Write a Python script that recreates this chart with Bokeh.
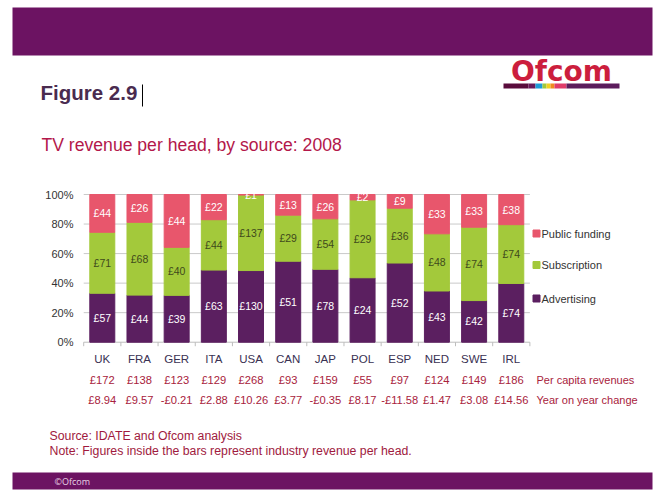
import numpy as np
from bokeh.plotting import figure
from bokeh.models import Range1d, ColumnDataSource
from bokeh.core.properties import value
from bokeh.embed import file_html
from bokeh.resources import INLINE

# ---------------- data ----------------
countries = ["UK", "FRA", "GER", "ITA", "USA", "CAN", "JAP", "POL", "ESP", "NED", "SWE", "IRL"]
advertising = [57, 44, 39, 63, 130, 51, 78, 24, 52, 43, 42, 74]
subscription = [71, 68, 40, 44, 137, 29, 54, 29, 36, 48, 74, 74]
public_funding = [44, 26, 44, 22, 1, 13, 26, 2, 9, 33, 33, 38]
per_capita = ["£172", "£138", "£123", "£129", "£268", "£93", "£159", "£55", "£97", "£124", "£149", "£186"]
yoy_change = ["£8.94", "£9.57", "-£0.21", "£2.88", "£10.26", "£3.77", "-£0.35", "£8.17",
              "-£11.58", "£1.47", "£3.08", "£14.56"]
series_names = ["Public funding", "Subscription", "Advertising"]
y_ticks = [0.0, 0.2, 0.4, 0.6, 0.8, 1.0]
y_tick_labels = ["0%", "20%", "40%", "60%", "80%", "100%"]

# ---------------- style ----------------
W, H = 672, 497
FONT = value("Liberation Sans")
PURPLE = "#5b1f60"
GREEN = "#a3c93b"
PINK = "#e8566c"
BANNER = "#6c1362"
RED_TXT = "#a8223c"
GRID = "#c9c9c9"

adv = np.array(advertising, float)
sub = np.array(subscription, float)
pub = np.array(public_funding, float)
tot = adv + sub + pub
adv_f, sub_f, pub_f = adv / tot, sub / tot, pub / tot
xs = np.arange(len(countries))

src = ColumnDataSource(dict(
    x=xs, country=countries,
    adv_f=adv_f, sub_f=sub_f, pub_f=pub_f,
    adv_mid=adv_f / 2, sub_mid=adv_f + sub_f / 2, pub_mid=adv_f + sub_f + pub_f / 2,
    adv_lab=[f"£{v}" for v in advertising],
    sub_lab=[f"£{v}" for v in subscription],
    pub_lab=[f"£{v}" for v in public_funding],
    per_capita=per_capita, yoy=yoy_change,
))

# data ranges chosen so the chart area sits where it does on the slide
p = figure(width=W, height=H,
           x_range=Range1d(-2.738, 15.336), y_range=Range1d(-1.0514, 2.3135),
           min_border=0, toolbar_location=None, output_backend="svg",
           x_axis_location=None, y_axis_location=None)
p.grid.visible = False
p.outline_line_color = None
p.background_fill_color = "white"
p.border_fill_color = "white"
p.extra_x_ranges = {"px": Range1d(0, W)}
p.extra_y_ranges = {"px": Range1d(H, 0)}
PX = dict(x_range_name="px", y_range_name="px")

# ---------------- slide decorations ----------------
p.quad(left=12, right=652, top=7, bottom=55, fill_color=BANNER, line_color=None, **PX)
p.quad(left=12, right=652, top=472, bottom=489, fill_color=BANNER, line_color=None, **PX)
p.text(x=[54], y=[481], text=["©Ofcom"], text_font=value("Open Sans"), text_font_size="9px",
       text_color="#e6d2e4", text_baseline="middle", **PX)

# logo
p.text(x=[561], y=[71], text=["Ofcom"], text_font=value("DejaVu Sans"), text_font_style="bold",
       text_font_size="28px", text_color="#cc1e3d", text_align="center",
       text_baseline="middle", **PX)
strip_l = [503, 528, 535, 542, 546, 550, 554, 566]
strip_r = [528, 535, 542, 546, 550, 554, 566, 619]
strip_c = ["#5a0c3c", "#6a1a5a", "#1e9bd7", "#a0c83c", "#f0d020", "#f08a20", "#e03c6a", "#5c1c5c"]
p.quad(left=strip_l, right=strip_r, top=83, bottom=88, fill_color=strip_c, line_color=None, **PX)

p.text(x=[40], y=[92], text=["Figure 2.9"], text_font=FONT, text_font_style="bold",
       text_font_size="20.5px", text_color="#4a2b4f", text_baseline="middle", **PX)
p.segment(x0=[142], x1=[142], y0=[84], y1=[106], line_color="black", line_width=1, **PX)
p.text(x=[41], y=[144], text=["TV revenue per head, by source: 2008"], text_font=FONT,
       text_font_size="17.6px", text_color="#b3174a", text_baseline="middle", **PX)

# ---------------- chart ----------------
x_lo, x_hi = -0.5, len(countries) - 0.5
p.segment(x0=[x_lo] * 5, x1=[x_hi] * 5, y0=y_ticks[1:], y1=y_ticks[1:],
          line_color=GRID, line_width=1)
p.segment(x0=[x_lo], x1=[x_hi], y0=[0], y1=[0], line_color="#bdbdbd", line_width=1)
bounds = list(np.arange(len(countries) + 1) - 0.5)
p.segment(x0=bounds, x1=bounds, y0=[0] * len(bounds), y1=[-4 / 147.7] * len(bounds),
          line_color="#bdbdbd", line_width=1)

p.vbar_stack(["adv_f", "sub_f", "pub_f"], x="x", width=0.672, source=src,
             color=[PURPLE, GREEN, PINK])

p.text(x="x", y="adv_mid", text="adv_lab", source=src, text_font=FONT, text_font_size="10.5px",
       text_color="white", text_align="center", text_baseline="middle")
p.text(x="x", y="sub_mid", text="sub_lab", source=src, text_font=FONT, text_font_size="10.5px",
       text_color="#3f4a1c", text_align="center", text_baseline="middle")
p.text(x="x", y="pub_mid", text="pub_lab", source=src, text_font=FONT, text_font_size="10.5px",
       text_color="white", text_align="center", text_baseline="middle")

# y tick labels
p.text(x=[73] * len(y_ticks), y=y_ticks, text=y_tick_labels, text_font=FONT,
       text_font_size="11px", text_color="#333333", text_align="right",
       text_baseline="middle", x_range_name="px")

# category labels and rows beneath
p.text(x="x", y=358, text="country", source=src, text_font=FONT,
       text_font_size="11.5px", text_color="#3a3152", text_align="center",
       text_baseline="middle", y_range_name="px")
p.text(x="x", y=379, text="per_capita", source=src, text_font=FONT,
       text_font_size="11.2px", text_color=RED_TXT, text_align="center",
       text_baseline="middle", y_range_name="px")
p.text(x="x", y=399, text="yoy", source=src, text_font=FONT,
       text_font_size="11.2px", text_color=RED_TXT, text_align="center",
       text_baseline="middle", y_range_name="px")
p.text(x=[536, 536], y=[379, 399], text=["Per capita revenues", "Year on year change"],
       text_font=FONT, text_font_size="11px", text_color=RED_TXT, text_baseline="middle", **PX)

# legend
p.scatter(x=[536] * 3, y=[233, 264.5, 298], marker="square", size=7,
          color=[PINK, GREEN, PURPLE], **PX)
p.text(x=[541] * 3, y=[233, 264.5, 298], text=series_names, text_font=FONT,
       text_font_size="11px", text_color="#333333", text_baseline="middle", **PX)

# notes
p.text(x=[49, 49], y=[435, 450],
       text=["Source: IDATE and Ofcom analysis",
             "Note: Figures inside the bars represent industry revenue per head."],
       text_font=FONT, text_font_size="12.3px", text_color="#a01a3e",
       text_baseline="middle", **PX)

open("out.html", "w").write(file_html(p, INLINE))
